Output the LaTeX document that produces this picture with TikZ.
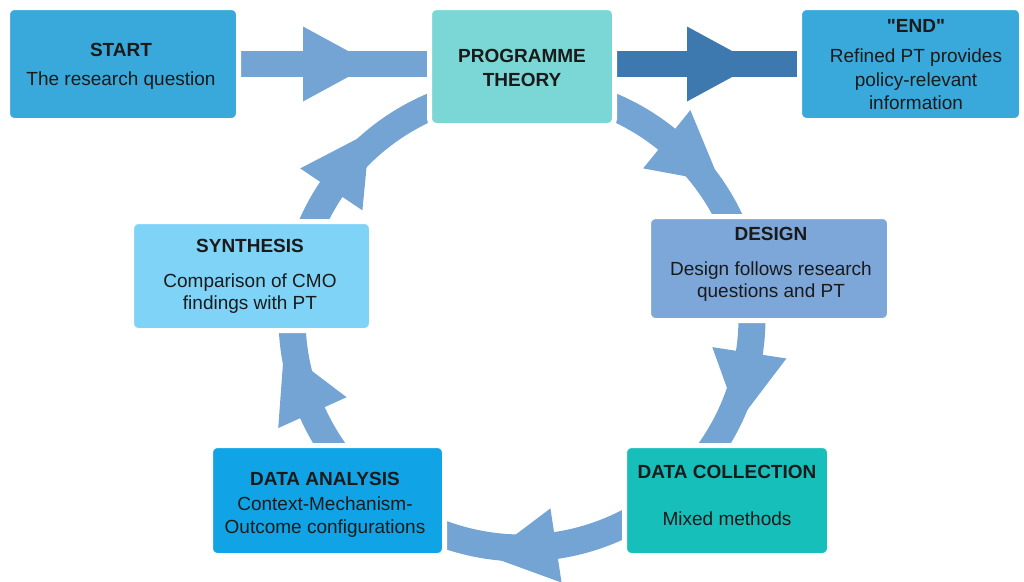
\documentclass[tikz,border=0pt]{standalone}
\usepackage{fontspec}
\setmainfont{Liberation Sans}[Ligatures=TeXOff]
\usetikzlibrary{calc}
\pgfdeclarelayer{bg}
\pgfsetlayers{bg,main}
\definecolor{cStart}{HTML}{39A9DB}
\definecolor{cPT}{HTML}{7BD7D6}
\definecolor{cSyn}{HTML}{7FD3F7}
\definecolor{cDesign}{HTML}{7DA7D9}
\definecolor{cDA}{HTML}{10A4E6}
\definecolor{cDC}{HTML}{17BFBA}
\definecolor{cBand}{HTML}{74A4D4}
\definecolor{cBandDark}{HTML}{3D78AF}
\definecolor{cText}{HTML}{1A1A1A}
\begin{document}
\begin{tikzpicture}[x=1pt,y=1pt,
  box/.style={rectangle, rounded corners=7pt, draw=white, line width=5pt, inner sep=0pt},
  txt/.style={anchor=base, inner sep=0pt, text=cText, font=\fontsize{19}{23}\selectfont},
  ttl/.style={txt, font=\fontsize{19}{23}\selectfont\bfseries},
  band/.style={line width=26pt, draw=cBand},
  arcband/.style={line width=27pt, draw=cBand},
  arrhead/.pic={\fill (0,37.5) -- (69,0) -- (0,-37.5) -- cycle;}
]
\useasboundingbox (0,0) rectangle (1024,-581);

% boxes (visible size = minimum size - 5)
\node[box, fill=cStart,  minimum width=231pt, minimum height=113pt] (start)  at (123,-64) {};
\node[box, fill=cPT,     minimum width=185pt, minimum height=118pt] (pt)     at (522,-66.5) {};
\node[box, fill=cStart,  minimum width=222pt, minimum height=113pt] (end)    at (910.5,-64) {};
\node[box, fill=cSyn,    minimum width=240pt, minimum height=109pt] (syn)    at (251.5,-276) {};
\node[box, fill=cDesign, minimum width=241pt, minimum height=104pt] (design) at (769,-268.5) {};
\node[box, fill=cDA,     minimum width=234pt, minimum height=110pt] (da)     at (327.5,-500.5) {};
\node[box, fill=cDC,     minimum width=205pt, minimum height=110pt] (dc)     at (727,-500.5) {};

% texts
\node[ttl] (startA) at (121,-56) {START};
\node[txt] (startB) at (121,-85) {The research question};
\node[ttl] (ptA) at (522,-62) {PROGRAMME};
\node[ttl] (ptB) at (522,-86) {THEORY};
\node[ttl] (endA) at (916,-32) {"END"};
\node[txt] (endB) at (916,-62) {Refined PT provides};
\node[txt] (endC) at (916,-86) {policy-relevant};
\node[txt] (endD) at (916,-109) {information};
\node[ttl] (synA) at (250,-252) {SYNTHESIS};
\node[txt] (synB) at (250,-287) {Comparison of CMO};
\node[txt] (synC) at (250,-309) {findings with PT};
\node[ttl] (desA) at (771,-240) {DESIGN};
\node[txt] (desB) at (771,-275) {Design follows research};
\node[txt] (desC) at (771,-297) {questions and PT};
\node[ttl] (daA) at (325,-485) {DATA ANALYSIS};
\node[txt] (daB) at (325,-510) {Context-Mechanism-};
\node[txt] (daC) at (325,-533) {Outcome configurations};
\node[ttl] (dcA) at (727,-478) {DATA COLLECTION};
\node[txt] (dcB) at (727,-525) {Mixed methods};

\begin{pgfonlayer}{bg}
  \coordinate (c) at (522,-318);
  % straight arrows
  \draw[band] (start.center) -- (start.center -| pt.center);
  \pic[fill=cBand] at (303,-64) {arrhead};
  \draw[band, draw=cBandDark] (end.center -| pt.center) -- (end.center);
  \pic[fill=cBandDark] at (687,-64) {arrhead};
  % cycle arcs (clockwise)
  \draw[arcband] ([shift={(70:230)}]c) arc[start angle=70, end angle=22, radius=230];
  \pic[fill=cBand, rotate=-39] at ([shift={(51:230)}]c) {arrhead};
  \draw[arcband] ([shift={(3:230)}]c) arc[start angle=3, end angle=-38, radius=230];
  \pic[fill=cBand, rotate=-98.7] at ([shift={(-8.7:230)}]c) {arrhead};
  \draw[arcband] ([shift={(-60:230)}]c) arc[start angle=-60, end angle=-113, radius=230];
  \pic[fill=cBand, rotate=-171.5] at ([shift={(-81.5:230)}]c) {arrhead};
  \draw[arcband] ([shift={(219:230)}]c) arc[start angle=219, end angle=180, radius=230];
  \pic[fill=cBand, rotate=114.3] at ([shift={(204.3:230)}]c) {arrhead};
  \draw[arcband] ([shift={(160:230)}]c) arc[start angle=160, end angle=110, radius=230];
  \pic[fill=cBand, rotate=56] at ([shift={(146:230)}]c) {arrhead};
\end{pgfonlayer}
\end{tikzpicture}
\end{document}
